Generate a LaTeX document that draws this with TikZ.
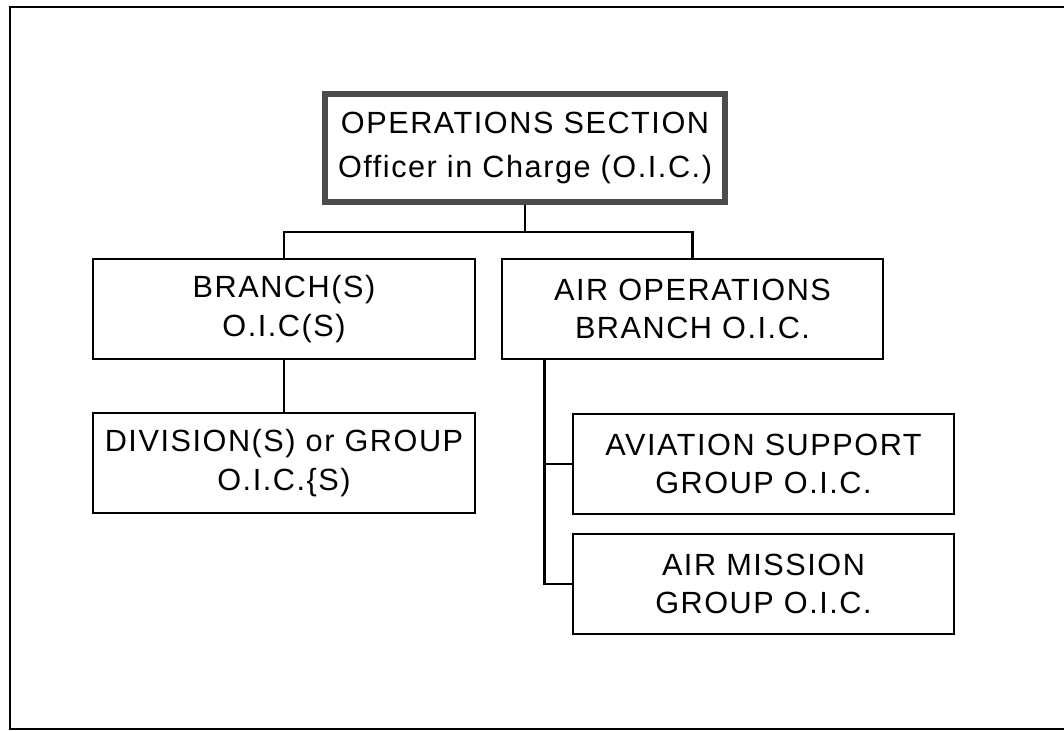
\documentclass[tikz,border=0pt]{standalone}
\usepackage{fontspec}
\setmainfont{Liberation Sans}
\newfontfamily\orgfont[LetterSpace=5]{Liberation Sans}
\begin{document}
\begin{tikzpicture}[x=0.75pt,y=-0.75pt,
    orgbox/.style={draw,line width=1.4pt,align=center,inner sep=0pt,
      minimum width=286pt,minimum height=75pt,font=\orgfont\fontsize{23}{29}\selectfont},
    headbox/.style={orgbox,draw=black!70,line width=4.5pt,minimum width=300pt,
      minimum height=81pt,font=\orgfont\fontsize{23}{33}\selectfont},
    link/.style={line width=2.2pt}]
  \useasboundingbox (0,0) rectangle (1064,731);
  \draw[line width=2pt] (1064,7) -- (10,7) -- (10,729) -- (1064,729);

  \node[headbox] (ops)    at (525.0,148.0) {OPERATIONS SECTION\\Officer in  Charge (O.I.C.)};
  \node[orgbox]  (branch) at (284.0,309.0) {BRANCH(S)\\O.I.C(S)};
  \node[orgbox]  (div)    at (284.0,463.0) {DIVISION(S)  or GROUP\\O.I.C.\{S)};
  \node[orgbox]  (airops) at (692.5,309.0) {AIR OPERATIONS\\BRANCH  O.I.C.};
  \node[orgbox]  (avsup)  at (763.5,464.0) {AVIATION  SUPPORT\\GROUP  O.I.C.};
  \node[orgbox]  (airmis) at (763.5,584.0) {AIR  MISSION\\GROUP  O.I.C.};

  \coordinate (bus) at (525.0,232.0);
  \coordinate (tap) at ([xshift=33pt]airops.south west);

  \draw[link] (ops) -- (bus);
  \draw[link] (branch.north) |- (bus) -| (airops.north);
  \draw[link] (branch) -- (div);
  \draw[link] (tap) |- (avsup.west);
  \draw[link] (tap) |- (airmis.west);
\end{tikzpicture}
\end{document}
